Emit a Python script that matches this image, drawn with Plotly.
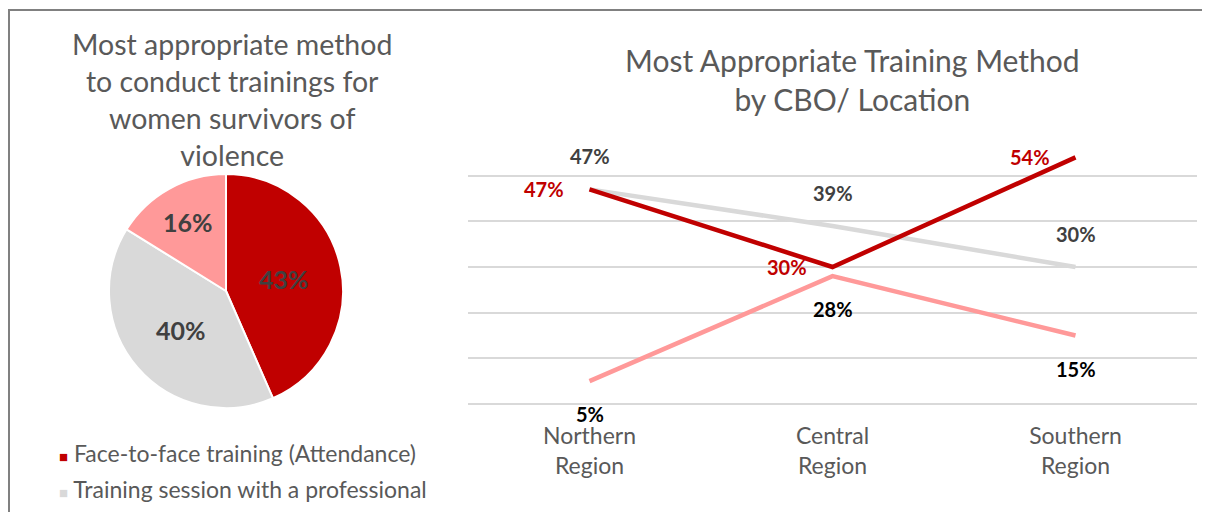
import plotly.graph_objects as go

# pie: overall preference
methods = ["Face-to-face training (Attendance)",
           "Training session with a professional",
           "Other"]
pie_values = [43, 40, 16]

# line: preference by location
regions = ["Northern<br>Region", "Central<br>Region", "Southern<br>Region"]
face_to_face = [47, 30, 54]
professional = [47, 39, 30]
other_method = [5, 28, 15]

RED = "#c00000"
GREY = "#d9d9d9"
PINK = "#ff9999"
TXT = "#595959"
FONT = "Lato, Carlito, Calibri, sans-serif"

# page body has an 8px margin, so the figure is sized to fit the window
W, H = 1194, 504


def px_x(x):
    return (x - 8) / W


def px_y(y):
    return 1 - (y - 8) / H


fig = go.Figure()

fig.add_trace(go.Pie(
    labels=methods, values=pie_values, sort=False,
    direction="clockwise", rotation=0,
    marker=dict(colors=[RED, GREY, PINK], line=dict(color="white", width=2)),
    texttemplate="<b>%{value}%</b>", textposition="inside",
    insidetextorientation="horizontal",
    textfont=dict(size=25, color="#404040", family=FONT),
    domain=dict(x=[px_x(109), px_x(343)], y=[px_y(408), px_y(174)]),
    showlegend=False, hoverinfo="label+percent",
))

series = [
    ("Training session with a professional", professional, GREY, "#404040", 0, 33),
    ("Other", other_method, PINK, "#000000", 0, -33),
    ("Face-to-face training (Attendance)", face_to_face, RED, RED, -46, 0),
]

annotations = []
for name, vals, color, lcolor, dx, dy in series:
    fig.add_trace(go.Scatter(
        x=regions, y=vals, mode="lines", name=name,
        line=dict(color=color, width=4.5), showlegend=False,
    ))
    for r, v in zip(regions, vals):
        annotations.append(dict(
            x=r, y=v, xref="x", yref="y", text=f"<b>{v}%</b>",
            showarrow=False, xshift=dx, yshift=dy,
            font=dict(size=20, color=lcolor, family=FONT),
        ))

# titles
annotations.append(dict(
    x=px_x(232), y=px_y(99), xref="paper", yref="paper",
    xanchor="center", yanchor="middle",
    text="Most appropriate method<br>to conduct trainings for<br>women survivors of<br>violence",
    showarrow=False, font=dict(size=28.5, color=TXT, family=FONT),
))
annotations.append(dict(
    x=px_x(852), y=px_y(80), xref="paper", yref="paper",
    xanchor="center", yanchor="middle",
    text="Most Appropriate Training Method<br>by CBO/ Location",
    showarrow=False, font=dict(size=30, color=TXT, family=FONT),
))

# legend (only the two visible entries)
for i, (m, c) in enumerate(zip(methods[:2], [RED, GREY])):
    annotations.append(dict(
        x=px_x(57), y=px_y(453 + 36 * i), xref="paper", yref="paper",
        xanchor="left", yanchor="middle", showarrow=False,
        text=f"<span style='color:{c};font-size:15px'>■</span> {m}",
        font=dict(size=23, color=TXT, family=FONT),
    ))

fig.update_layout(
    width=W, height=H,
    margin=dict(l=0, r=0, t=0, b=0),
    paper_bgcolor="white", plot_bgcolor="white",
    font=dict(family=FONT, color=TXT),
    annotations=annotations,
    xaxis=dict(domain=[px_x(468), px_x(1197)], type="category", range=[-0.5, 2.5],
               showgrid=False, showline=False, ticks="",
               tickfont=dict(size=23, color=TXT, family=FONT),
               ticklabelstandoff=16),
    yaxis=dict(domain=[px_y(404), px_y(130)], range=[0, 60], dtick=10,
               showticklabels=False, showgrid=True, gridcolor=GREY, gridwidth=2,
               zeroline=True, zerolinecolor=GREY, zerolinewidth=2, showline=False),
    shapes=[
        dict(type="line", xref="paper", yref="paper", x0=px_x(8), x1=1,
             y0=px_y(10), y1=px_y(10), line=dict(color="#808080", width=2)),
        dict(type="line", xref="paper", yref="paper", x0=px_x(9), x1=px_x(9),
             y0=0, y1=px_y(10), line=dict(color="#808080", width=2)),
    ],
)

fig.write_html("out.html")
